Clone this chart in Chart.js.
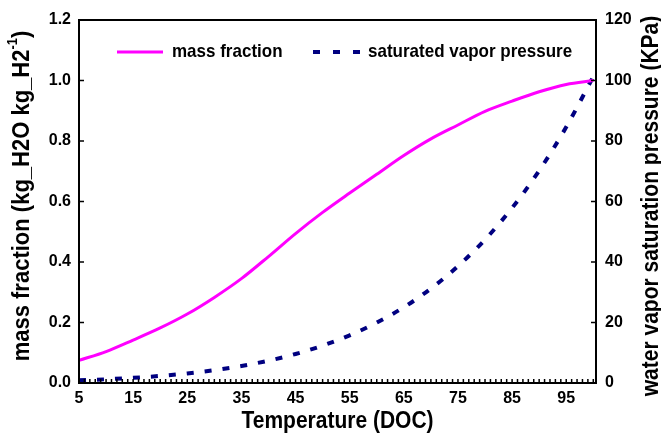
<!DOCTYPE html>
<html>
<head>
<meta charset="utf-8">
<script src="https://cdn.jsdelivr.net/npm/chart.js@4"></script>
<style>
  html, body { margin: 0; padding: 0; background: #fff; }
</style>
</head>
<body>
<canvas id="chart" width="661" height="436"></canvas>
<script>
// values
const temperature = [5, 10, 15, 20, 25, 30, 35, 40, 45, 50, 55, 60, 65, 70, 75, 80, 85, 90, 95, 100];
const massFraction = [0.075, 0.104, 0.142, 0.182, 0.228, 0.283, 0.345, 0.418, 0.494, 0.564, 0.628, 0.69, 0.752, 0.807, 0.853, 0.898, 0.932, 0.963, 0.987, 1.0];
const vaporPressure = [0.87, 1.23, 1.71, 2.34, 3.17, 4.25, 5.63, 7.38, 9.59, 12.35, 15.76, 19.95, 25.04, 31.2, 38.6, 47.41, 57.87, 70.18, 84.61, 101.3];
const xTicks = [5, 15, 25, 35, 45, 55, 65, 75, 85, 95];
const leftTicks = [0, 0.2, 0.4, 0.6, 0.8, 1.0, 1.2];
const rightTicks = [0, 20, 40, 60, 80, 100, 120];

const FONT = '"Liberation Sans", Arial, sans-serif';
const STRETCH = 1.12; // reference text is a bit taller than wide

function tallText(ctx, text, x, y, align) {
    ctx.save();
    ctx.translate(x, y);
    ctx.scale(1, STRETCH);
    ctx.textAlign = align;
    ctx.fillText(text, 0, 0);
    ctx.restore();
}

const framePlugin = {
    id: 'frame',
    afterDraw(chart) {
        const ctx = chart.ctx;
        const a = chart.chartArea;
        const s = chart.scales;
        ctx.save();

        // box round the plot
        ctx.strokeStyle = '#000';
        ctx.lineWidth = 2;
        ctx.strokeRect(a.left, a.top, a.right - a.left, a.bottom - a.top);

        // inward tick marks
        ctx.lineWidth = 1.5;
        ctx.beginPath();
        for (let t = 5; t <= 100; t++) {
            const x = s.x.getPixelForValue(t);
            ctx.moveTo(x, a.bottom);
            ctx.lineTo(x, a.bottom - 4);
        }
        leftTicks.forEach(v => {
            const y = s.y.getPixelForValue(v);
            ctx.moveTo(a.left, y);
            ctx.lineTo(a.left + 5, y);
        });
        rightTicks.forEach(v => {
            const y = s.y1.getPixelForValue(v);
            ctx.moveTo(a.right, y);
            ctx.lineTo(a.right - 5, y);
        });
        ctx.stroke();

        ctx.fillStyle = '#000';
        ctx.textBaseline = 'middle';

        // x title
        ctx.font = 'bold 21px ' + FONT;
        tallText(ctx, 'Temperature (DOC)', (a.left + a.right) / 2, 422, 'center');

        // left title with superscript
        const main = 'mass fraction (kg_H2O kg_H2';
        const sup = '-1';
        ctx.font = 'bold 22px ' + FONT;
        const wMain = ctx.measureText(main).width;
        const wClose = ctx.measureText(')').width;
        ctx.font = 'bold 13px ' + FONT;
        const wSup = ctx.measureText(sup).width;
        const total = wMain + wSup + wClose;
        ctx.save();
        ctx.translate(22, 196);
        ctx.rotate(-Math.PI / 2);
        ctx.scale(1, STRETCH);
        ctx.textAlign = 'left';
        ctx.font = 'bold 22px ' + FONT;
        ctx.fillText(main, -total / 2, 0);
        ctx.fillText(')', -total / 2 + wMain + wSup, 0);
        ctx.font = 'bold 13px ' + FONT;
        ctx.fillText(sup, -total / 2 + wMain, -8);
        ctx.restore();

        // right title, reading bottom to top
        ctx.save();
        ctx.translate(652, 206);
        ctx.rotate(-Math.PI / 2);
        ctx.font = 'bold 21px ' + FONT;
        tallText(ctx, 'water vapor saturation pressure (KPa)', 0, 0, 'center');
        ctx.restore();

        // legend inside the plot
        const ds = chart.data.datasets;
        const ly = 52;
        ctx.font = 'bold 17px ' + FONT;
        ctx.lineCap = 'butt';

        ctx.strokeStyle = ds[0].borderColor;
        ctx.lineWidth = ds[0].borderWidth;
        ctx.setLineDash([]);
        ctx.beginPath();
        ctx.moveTo(117, ly);
        ctx.lineTo(163, ly);
        ctx.stroke();
        tallText(ctx, ds[0].label, 172, ly, 'left');

        ctx.strokeStyle = ds[1].borderColor;
        ctx.lineWidth = ds[1].borderWidth;
        ctx.setLineDash([7, 13]);
        ctx.beginPath();
        ctx.moveTo(313, ly);
        ctx.lineTo(360, ly);
        ctx.stroke();
        ctx.setLineDash([]);
        tallText(ctx, ds[1].label, 368, ly, 'left');

        ctx.restore();
    }
};

const ctx = document.getElementById('chart').getContext('2d');

new Chart(ctx, {
    type: 'line',
    data: {
        datasets: [
            {
                label: 'mass fraction',
                data: temperature.map((t, i) => ({ x: t, y: massFraction[i] })),
                borderColor: '#ff00ff',
                borderWidth: 3,
                pointRadius: 0,
                cubicInterpolationMode: 'monotone',
                fill: false,
                yAxisID: 'y'
            },
            {
                label: 'saturated vapor pressure',
                data: temperature.map((t, i) => ({ x: t, y: vaporPressure[i] })),
                borderColor: '#000080',
                borderWidth: 4,
                borderDash: [7, 11],
                pointRadius: 0,
                cubicInterpolationMode: 'monotone',
                fill: false,
                yAxisID: 'y1'
            }
        ]
    },
    options: {
        responsive: false,
        animation: false,
        layout: { padding: { top: 20, left: 0, right: 0, bottom: 0 } },
        plugins: {
            legend: { display: false },
            tooltip: { enabled: false }
        },
        scales: {
            x: {
                type: 'linear',
                min: 5,
                max: 100.5,
                afterBuildTicks: scale => { scale.ticks = xTicks.map(v => ({ value: v })); },
                afterFit: scale => { scale.height = 53; },
                grid: { display: false, drawTicks: false },
                border: { display: false },
                ticks: {
                    autoSkip: false,
                    maxRotation: 0,
                    padding: 6,
                    color: '#000',
                    font: { family: FONT, size: 16, weight: 'bold' }
                }
            },
            y: {
                position: 'left',
                min: 0,
                max: 1.2,
                afterBuildTicks: scale => { scale.ticks = leftTicks.map(v => ({ value: v })); },
                afterFit: scale => { scale.width = 79; },
                grid: { display: false, drawTicks: false },
                border: { display: false },
                ticks: {
                    padding: 8,
                    color: '#000',
                    font: { family: FONT, size: 16, weight: 'bold' },
                    callback: v => v.toFixed(1)
                }
            },
            y1: {
                position: 'right',
                min: 0,
                max: 120,
                afterBuildTicks: scale => { scale.ticks = rightTicks.map(v => ({ value: v })); },
                afterFit: scale => { scale.width = 65; },
                grid: { display: false, drawTicks: false },
                border: { display: false },
                ticks: {
                    padding: 9,
                    color: '#000',
                    font: { family: FONT, size: 16, weight: 'bold' }
                }
            }
        }
    },
    plugins: [framePlugin]
});
</script>
</body>
</html>
